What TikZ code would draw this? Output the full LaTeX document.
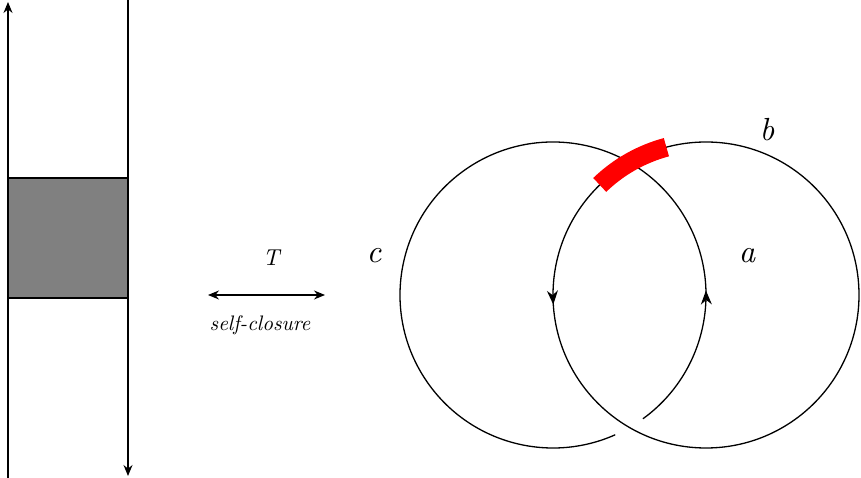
\documentclass[tikz,border=0pt]{standalone}
\usetikzlibrary{arrows.meta,decorations.markings}
\begin{document}
\begin{tikzpicture}[x=1pt,y=1pt,line width=1.3pt,
  tip/.style={-{Stealth[length=11pt,width=9pt]}},
  lbl/.style={font=\itshape,scale=3.2}]
\useasboundingbox (0,0) rectangle (861,478);
\fill[black!50] (8,300) rectangle (128,180);
\draw (8,300) -- (128,300) (8,180) -- (128,180);
\coordinate (l1) at (8,0); \coordinate (l2) at (8,476);
\coordinate (r1) at (128,478); \coordinate (r2) at (128,2);
\draw[tip] (l1) -- (l2);
\draw[tip] (r1) -- (r2);
\node[font=\itshape,scale=2.3] (T) at (271,220) {T};
\coordinate (ha) at (208,183); \coordinate (hb) at (325,183);
\draw[{Stealth[length=11pt,width=9pt]}-{Stealth[length=11pt,width=9pt]}] (ha) -- (hb);
\node[font=\itshape,scale=2.1] (sc) at (260,153) {self-closure};
% circles
\coordinate (L) at (553,183); \coordinate (R) at (706,183);
\draw[postaction={decorate},decoration={markings,
   mark=at position 0.16 with {\arrow{Stealth[length=14pt,width=11pt]}}}]
   ([shift={(-54:153)}]L) arc[start angle=-54,end angle=294,radius=153];
\draw[postaction={decorate},decoration={markings,
   mark=at position 0.51 with {\arrow{Stealth[length=14pt,width=11pt]}}}]
   ([shift={(0:153)}]R) arc[start angle=0,end angle=360,radius=153];
\draw[red,line width=19pt] ([shift={(105:153)}]R) arc[start angle=105,end angle=134,radius=153];
\node[lbl] (c) at (374,222) {c};
\node[lbl] (a) at (747,222) {a};
\node[lbl] (b) at (767,348) {b};
\end{tikzpicture}
\end{document}
